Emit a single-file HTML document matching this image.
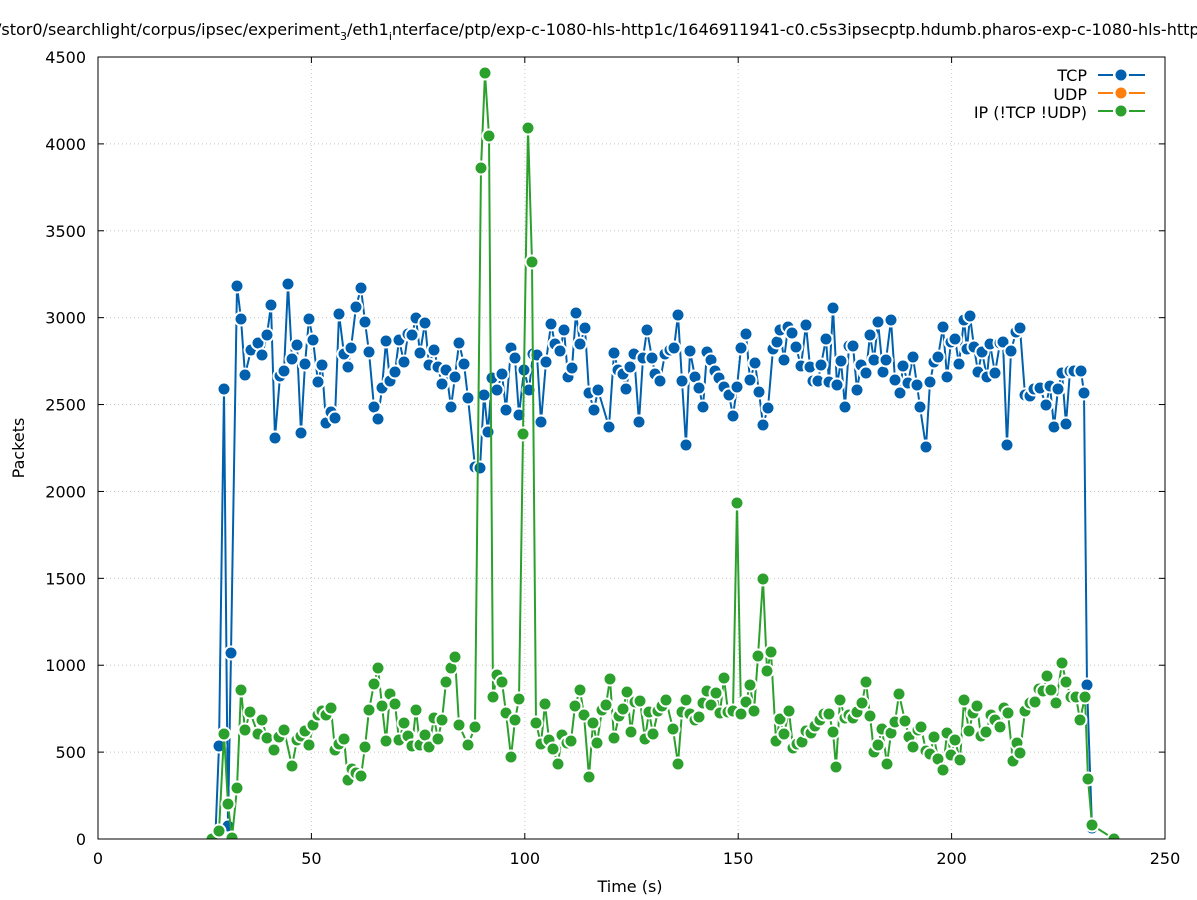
<!DOCTYPE html>
<html><head><meta charset="utf-8"><style>
body{margin:0;background:#fff;overflow:hidden}
svg{display:block;font-family:"DejaVu Sans","Liberation Sans",sans-serif}
</style></head><body>
<svg id="s" width="1197" height="900" viewBox="0 0 1197 900" xmlns="http://www.w3.org/2000/svg">
<defs><clipPath id="cp"><rect x="98" y="40" width="1080" height="799.5"/></clipPath></defs>
<rect width="1197" height="900" fill="#fff"/>
<g id="grid" stroke="#c8c8c8" stroke-width="1" stroke-dasharray="1,3"></g>
<g id="series" clip-path="url(#cp)"></g>
<rect x="98" y="57" width="1067" height="782" fill="none" stroke="#000" stroke-width="1"/>
<g id="ticks" font-size="16" fill="#000"></g>
<text x="-4" y="35" font-size="16">/stor0/searchlight/corpus/ipsec/experiment<tspan font-size="11" dy="5">3</tspan><tspan dy="-5">/eth1</tspan><tspan font-size="11" dy="5">i</tspan><tspan dy="-5">nterface/ptp/exp-c-1080-hls-http1c/1646911941-c0.c5s3ipsecptp.hdumb.pharos-exp-c-1080-hls-http1c</tspan></text>
<text x="630" y="892" font-size="16" text-anchor="middle">Time (s)</text>
<text transform="translate(24,448) rotate(-90)" font-size="16" text-anchor="middle">Packets</text>
<g font-size="16" text-anchor="end">
<text x="1087" y="81">TCP</text><text x="1087" y="100">UDP</text><text x="1087" y="118">IP (!TCP  !UDP)</text>
</g>
<g stroke-width="2">
<line x1="1098" y1="75" x2="1113" y2="75" stroke="#0060ad"/><line x1="1129" y1="75" x2="1145" y2="75" stroke="#0060ad"/><circle cx="1121" cy="75" r="5.5" fill="#0060ad"/>
<line x1="1098" y1="93" x2="1113" y2="93" stroke="#ff7f0e"/><line x1="1129" y1="93" x2="1145" y2="93" stroke="#ff7f0e"/><circle cx="1121" cy="93" r="5.5" fill="#ff7f0e"/>
<line x1="1098" y1="111" x2="1113" y2="111" stroke="#2ca02c"/><line x1="1129" y1="111" x2="1145" y2="111" stroke="#2ca02c"/><circle cx="1121" cy="111" r="5.5" fill="#2ca02c"/>
</g>
</svg>
<script>
var NS="http://www.w3.org/2000/svg";
function el(p,t,a,txt){var e=document.createElementNS(NS,t);for(var k in a)e.setAttribute(k,a[k]);if(txt!=null)e.textContent=txt;p.appendChild(e);return e;}
var g=document.getElementById('grid'),tk=document.getElementById('ticks');
for(var i=0;i<=5;i++){var x=98+i*1067/5;if(i>0&&i<5)el(g,'line',{x1:x,y1:57,x2:x,y2:839});
el(tk,'line',{x1:x,y1:839,x2:x,y2:833,stroke:'#000'});el(tk,'line',{x1:x,y1:57,x2:x,y2:63,stroke:'#000'});
el(tk,'text',{x:x,y:864,'text-anchor':'middle'},String(i*50));}
for(var j=0;j<=9;j++){var y=839-j*782/9;if(j>0&&j<9)el(g,'line',{x1:98,y1:y,x2:1165,y2:y});
el(tk,'line',{x1:98,y1:y,x2:104,y2:y,stroke:'#000'});el(tk,'line',{x1:1165,y1:y,x2:1159,y2:y,stroke:'#000'});
el(tk,'text',{x:86,y:y+6,'text-anchor':'end'},String(j*500));}
var blue=[[215,846],[219,746],[224,389],[228,826],[231,653],[237,286],[241,319],[245,375],[251,350],[258,343],[262,355],[267,335],[271,305],[275,438],[280,376],[284,371],[288,284],[292,359],[297,345],[301,433],[305,364],[309,319],[313,340],[318,382],[322,365],[326,423],[331,412],[335,418],[339,314],[344,354],[348,367],[351,348],[356,307],[361,288],[365,322],[369,352],[374,407],[378,419],[382,388],[386,341],[390,381],[395,372],[399,340],[404,362],[408,334],[412,335],[416,318],[420,353],[425,323],[429,365],[434,350],[438,367],[442,384],[446,370],[451,407],[455,377],[459,343],[464,364],[468,398],[475,467],[480,468],[484,395],[488,432],[492,378],[497,390],[502,374],[506,410],[511,348],[515,358],[519,415],[524,370],[529,390],[533,354],[537,355],[541,422],[546,362],[551,324],[555,344],[560,351],[564,330],[568,377],[572,368],[576,313],[580,344],[585,328],[589,393],[594,410],[598,390],[609,427],[614,353],[618,370],[623,374],[626,389],[630,367],[634,354],[639,422],[643,358],[647,330],[652,358],[655,374],[660,381],[665,354],[670,350],[674,348],[678,315],[682,381],[686,445],[690,351],[695,377],[699,388],[703,407],[707,352],[711,360],[715,371],[719,378],[724,387],[729,395],[733,416],[737,387],[741,348],[746,334],[750,380],[755,363],[759,392],[763,425],[768,408],[773,349],[777,342],[780,330],[784,360],[788,327],[792,333],[796,347],[801,366],[806,325],[810,367],[813,381],[818,381],[821,365],[826,339],[829,382],[833,308],[837,385],[841,361],[845,407],[849,346],[853,346],[857,390],[861,365],[866,373],[870,335],[874,360],[878,322],[883,372],[886,360],[891,320],[895,380],[900,393],[903,366],[908,383],[913,357],[917,385],[920,407],[926,447],[930,382],[934,362],[938,357],[943,327],[947,377],[951,342],[955,339],[959,364],[964,320],[967,349],[970,316],[974,347],[978,372],[982,352],[987,377],[990,344],[995,373],[1000,343],[1003,342],[1007,445],[1011,351],[1016,332],[1020,328],[1025,395],[1030,396],[1034,389],[1040,388],[1046,405],[1050,386],[1054,427],[1058,389],[1062,373],[1066,424],[1070,371],[1074,371],[1081,371],[1084,393],[1087,685],[1092,828]];
var green=[[103,846],[108,845],[118,846],[133,846],[150,845],[180,846],[194,845],[212,839],[219,831],[224,734],[228,804],[232,838],[237,788],[241,690],[245,730],[250,712],[258,734],[262,720],[267,738],[274,750],[279,737],[284,730],[292,766],[297,740],[301,736],[305,731],[309,745],[313,725],[318,715],[322,711],[326,715],[331,708],[335,750],[339,744],[344,739],[348,780],[352,769],[356,773],[361,776],[365,747],[369,710],[374,684],[378,668],[382,706],[386,741],[390,694],[395,704],[399,740],[404,723],[408,736],[412,746],[416,710],[420,745],[425,735],[429,747],[434,718],[438,739],[442,720],[446,682],[451,668],[455,657],[459,725],[468,745],[475,727],[481,168],[485,73],[489,136],[493,697],[497,675],[502,682],[506,713],[511,757],[515,720],[519,699],[523,434],[528,128],[532,262],[536,723],[541,744],[545,704],[549,740],[553,749],[558,764],[562,735],[567,743],[571,741],[575,706],[580,690],[584,715],[589,777],[593,723],[597,743],[602,710],[606,705],[610,679],[614,738],[619,716],[623,709],[627,692],[631,732],[635,702],[640,701],[645,739],[649,712],[653,734],[658,711],[662,706],[666,700],[673,729],[678,764],[682,712],[686,700],[690,714],[695,720],[699,717],[703,703],[707,691],[711,705],[716,693],[720,713],[724,678],[728,712],[733,711],[737,503],[741,714],[746,702],[750,685],[754,711],[758,656],[763,579],[767,671],[771,652],[776,741],[780,719],[784,734],[789,711],[793,748],[797,744],[802,742],[806,731],[811,733],[815,726],[820,720],[824,714],[829,714],[833,732],[836,767],[840,700],[845,718],[849,715],[853,718],[857,712],[862,703],[866,682],[870,716],[874,752],[878,745],[882,729],[887,764],[891,733],[895,722],[899,694],[905,721],[909,737],[913,747],[918,730],[921,727],[926,751],[930,754],[934,737],[938,759],[943,770],[947,733],[951,755],[955,740],[960,760],[964,700],[969,731],[973,713],[977,706],[981,736],[986,732],[991,715],[995,720],[1000,727],[1004,708],[1008,713],[1013,761],[1017,743],[1020,753],[1025,711],[1030,703],[1035,702],[1039,689],[1043,691],[1047,676],[1051,690],[1056,703],[1062,663],[1066,682],[1071,697],[1076,697],[1080,720],[1085,697],[1088,779],[1092,825],[1114,839]];
var S=document.getElementById('series');
var ud=el(S,'g',{});
for(var x=106;x<1100;x+=21){el(ud,'circle',{cx:x,cy:846,r:6.5,fill:'#ff7f0e',stroke:'#fff','stroke-width':2});}
function draw(d,c){
 el(S,'polyline',{points:d.map(function(p){return p.join(',')}).join(' '),fill:'none',stroke:c,'stroke-width':2});
 var gg=el(S,'g',{});
 d.forEach(function(p){el(gg,'circle',{cx:p[0],cy:p[1],r:6.5,fill:c,stroke:'#fff','stroke-width':2});});
}
draw(blue,'#0060ad');
draw(green,'#2ca02c');
</script>
</body></html>
